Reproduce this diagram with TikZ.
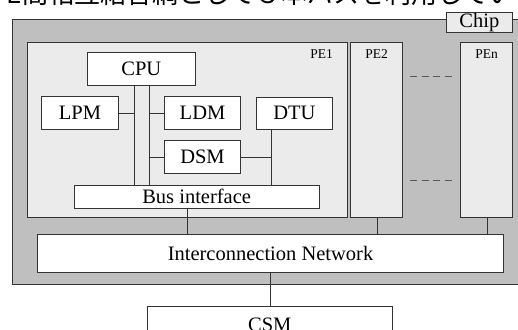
\documentclass[tikz,border=0pt]{standalone}
\usepackage{fontspec}
\setmainfont{Liberation Serif}
\newfontfamily\jpfont{Noto Sans CJK JP}
\usetikzlibrary{positioning}
\tikzset{
every wire/.style={draw=black!80},
}

\begin{document}
\begin{tikzpicture}[x=1pt, y=-1pt, line width=0.8pt,
						blk/.style={draw=black!80, fill=white, inner sep=0pt, minimum width=76.5pt, minimum height=32.6pt, font=\fontsize{20.5}{24}\selectfont},
						pe/.style={draw=black!80, fill=black!8, inner sep=0pt, minimum width=51.6pt, minimum height=175pt},
						pelbl/.style={inner sep=0pt, font=\fontsize{13.5}{16}\selectfont},
						wire/.style={every wire},
						dots/.style={draw=black!65, line width=1pt, dash pattern=on 7pt off 4.5pt},
					]
					\path[use as bounding box] (0,0) rectangle (518,329);
					\clip (0,0) rectangle (518,329);
					% caption line of the page, cut off at the top
					\node[anchor=base west, inner sep=0pt, font=\jpfont\fontsize{26}{30}\selectfont] (cap) at (-10,4) {PE間相互結合網として３本バスを利用している};
					% chip frame
					\draw[draw=black!80, fill=black!25] (12,19) rectangle (530,284);
					\node[draw=black!80, fill=black!8, inner sep=0pt, minimum width=66.7pt, minimum height=19.6pt, font=\fontsize{20.5}{24}\selectfont] (chip) at (479.4,22.5) {Chip};
					% processing elements
					\node[pe, minimum width=320.7pt] (pe1) at (187.35,129.5) {}; \node[pelbl] (pe1lbl) at (321.7,54) {PE1};
					\node[pe] (pe2) at (376.5,129.5) {}; \node[pelbl] (pe2lbl) at (376.7,54) {PE2};
					\node[pe] (pen) at (486.5,129.5) {}; \node[pelbl] (penlbl) at (486.7,54) {PEn};
					\draw[dots] (410,76) -- (452,76);
					\draw[dots] (410,180.7) -- (452,180.7);
					% inside PE1
					\node[blk, minimum width=107.3pt, minimum height=32.3pt] (cpu) at (141.35,68.85) {CPU};
					\node[blk] (lpm) at (80,113) {LPM};
					\node[blk] (ldm) at (202.5,113) {LDM};
					\node[blk] (dtu) at (294.35,113.3) {DTU};
					\node[blk] (dsm) at (202.5,157) {DSM};
					\node[blk, minimum width=245.3pt, minimum height=23pt] (bus) at (196.65,196.8) {Bus interface};
					\node[blk, minimum width=465.6pt, minimum height=38.3pt] (net) at (270.5,253.15) {Interconnection Network};
					\node[blk, minimum width=245pt, minimum height=36pt] (csm) at (269.8,324.5) {CSM};
					% buses
					\coordinate (busl) at ([xshift=-7.4pt]cpu.south);
					\coordinate (busr) at ([xshift=7.6pt]cpu.south);
					\coordinate (dtul) at ([xshift=-23.4pt]dtu.south);
					\draw[wire] (busl) -- (busl |- bus.north);
					\draw[wire] (busr) -- (busr |- bus.north);
					\draw[wire] (lpm.east) -- (lpm.east -| busl);
					\draw[wire] (busr |- ldm.west) -- (ldm.west);
					\draw[wire] (busr |- dsm.west) -- (dsm.west);
					\draw[wire] (dsm.east) -- (dsm.east -| dtul);
					\draw[wire] (dtul) -- (dtul |- bus.north);
					\draw[wire] ([xshift=-9pt]bus.south) -- ([xshift=-9pt]bus.south |- net.north);
					\draw[wire] ([xshift=1pt]pe2.south) -- ([xshift=1pt]pe2.south |- net.north);
					\draw[wire] ([xshift=1pt]pen.south) -- ([xshift=1pt]pen.south |- net.north);
					\draw[wire] (net.south) -- (net.south |- csm.north);
	\end{tikzpicture}
\end{document}
